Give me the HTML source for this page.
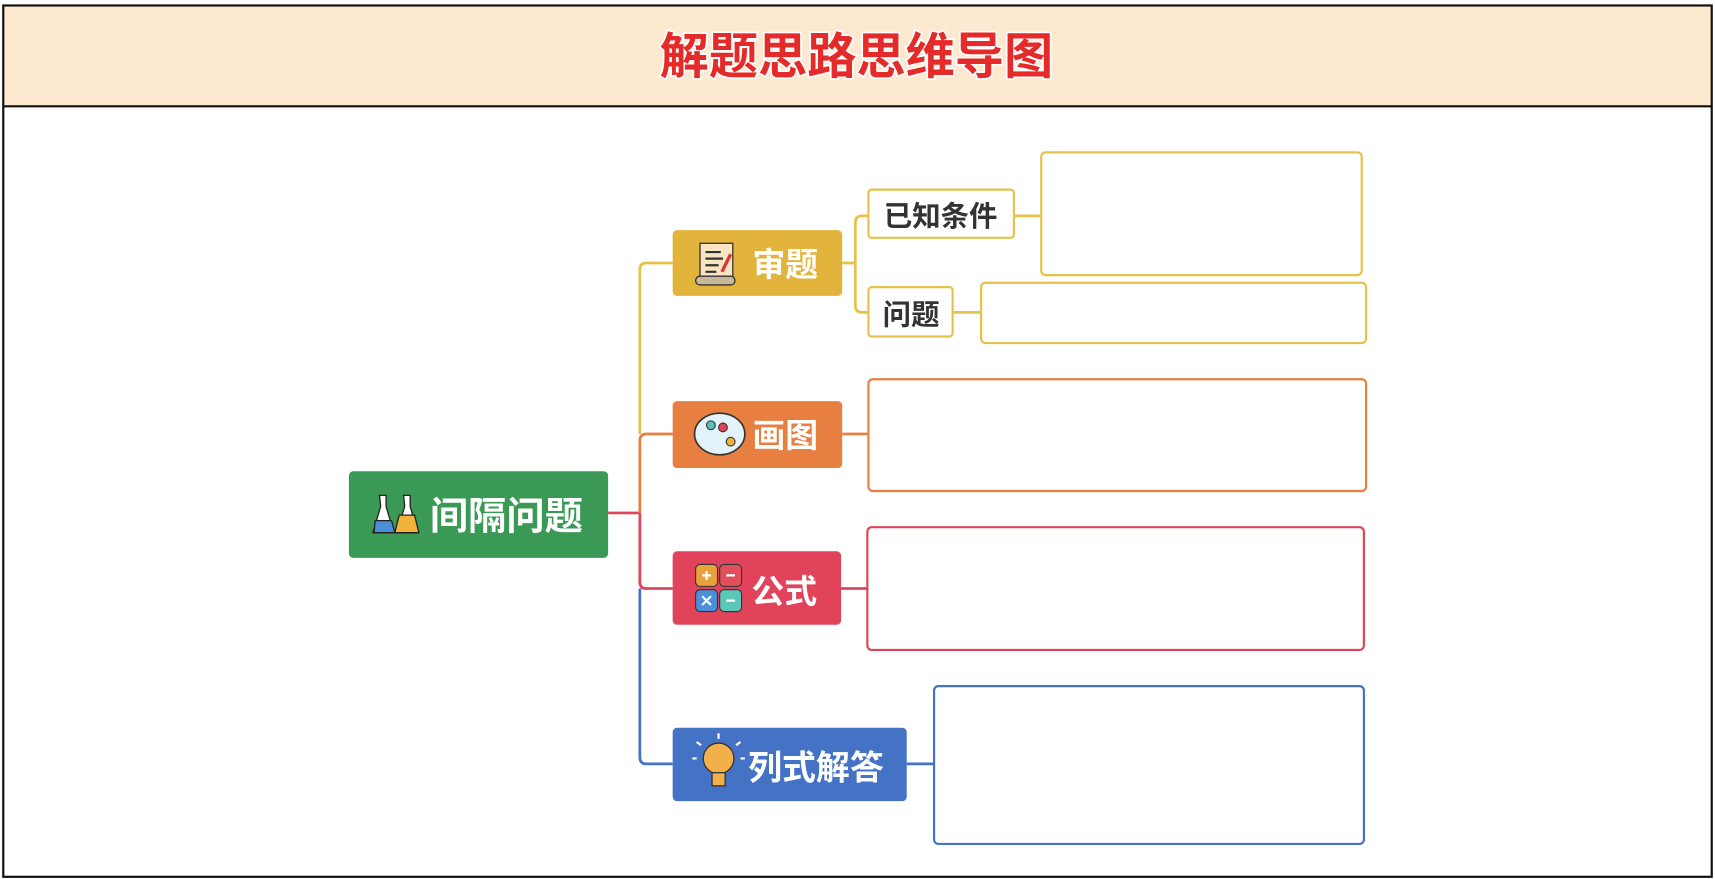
<!DOCTYPE html>
<html><head><meta charset="utf-8"><style>
html,body{margin:0;padding:0;background:#fff;}
svg{display:block;}
text{font-family:"Liberation Sans","Noto Sans CJK SC",sans-serif;font-weight:bold;}
</style></head><body>
<svg width="1715" height="879" viewBox="0 0 1568 802" preserveAspectRatio="none" xmlns="http://www.w3.org/2000/svg">
<rect x="0" y="0" width="1568" height="802" fill="#fff"/>
<rect x="3" y="5" width="1562" height="92" fill="#fde9d0"/>
<rect x="3" y="5" width="1562" height="795" fill="none" stroke="#111" stroke-width="2"/>
<line x1="3" y1="97" x2="1565" y2="97" stroke="#111" stroke-width="2"/>
<text x="783" y="67" text-anchor="middle" font-size="45" fill="#e52a2a" stroke="#fff" stroke-width="3" paint-order="stroke" font-weight="900">解题思路思维导图</text>

<g fill="none" stroke-width="2.5">
<path d="M556 468 H585" stroke="#e0435a"/>
<path d="M615 240 H591 Q585 240 585 246 V396" stroke="#e6c24a"/>
<path d="M615 396 H591 Q585 396 585 402 V468" stroke="#e77f40"/>
<path d="M585 468 V531 Q585 537 591 537 H615" stroke="#e0435a"/>
<path d="M585 537 V691 Q585 697 591 697 H615" stroke="#4472c4"/>
<path d="M770 240 H782 M794 197 H788 Q782 197 782 203 V279 Q782 285 788 285 H794" stroke="#e6c24a"/>
<path d="M927 197 H952 M871 285 H897" stroke="#e6c24a"/>
<path d="M770 396 H794" stroke="#e77f40"/>
<path d="M769 537 H793" stroke="#e0435a"/>
<path d="M829 697 H854" stroke="#4472c4"/>
</g>
<g fill="#fff" stroke-width="2">
<rect x="952" y="139" width="293" height="112" rx="4" stroke="#e6c24a"/>
<rect x="897" y="258" width="352" height="55" rx="4" stroke="#e6c24a"/>
<rect x="794" y="346" width="455" height="102" rx="4" stroke="#e77f40"/>
<rect x="793" y="481" width="454" height="112" rx="4" stroke="#e0435a"/>
<rect x="854" y="626" width="393" height="144" rx="4" stroke="#4472c4"/>
<rect x="794" y="173" width="133" height="44" rx="3" stroke="#e6c24a"/>
<rect x="794" y="262" width="77" height="45" rx="3" stroke="#e6c24a"/>
</g>
<text x="860" y="206" text-anchor="middle" font-size="26" fill="#333">已知条件</text>
<text x="833" y="296" text-anchor="middle" font-size="26" fill="#333">问题</text>

<rect x="319" y="430" width="237" height="79" rx="4" fill="#3a9a55"/>
<g stroke="#222" stroke-width="1.2">
<path d="M347 452 h6 v10 l7 24 h-19 l7 -24z" fill="#fff"/>
<path d="M343 475 h15 l3 11 h-19z" fill="#4a8fd8"/>
<path d="M369 452 h6 v10 l7 24 h-19 l7 -24z" fill="#fff"/>
<path d="M365 470 h14 l4 16 h-22z" fill="#f0b43a"/>
</g>
<text x="463" y="483" text-anchor="middle" font-size="35" fill="#fff">间隔问题</text>

<rect x="615" y="210" width="155" height="60" rx="4" fill="#e2b43c"/>
<g stroke="#333" stroke-width="1.2">
<rect x="640" y="222" width="30" height="34" fill="#f8e4c0"/>
<rect x="636" y="252" width="36" height="8" rx="4" fill="#c8b89a"/>
<path d="M645 230 h14 M645 236 h16 M645 242 h12 M645 248 h10" stroke="#333" stroke-width="2"/>
<path d="M668 232 l-8 16" stroke="#d33" stroke-width="3"/>
</g>
<text x="718" y="252" text-anchor="middle" font-size="30" fill="#fff">审题</text>

<rect x="615" y="366" width="155" height="61" rx="4" fill="#e77f40"/>
<ellipse cx="658" cy="396" rx="23" ry="19" fill="#e3f3fa" stroke="#333" stroke-width="1.5"/>
<circle cx="650" cy="388" r="4" fill="#5bc0b8" stroke="#333"/>
<circle cx="661" cy="390" r="4" fill="#e0435a" stroke="#333"/>
<circle cx="668" cy="403" r="4" fill="#f0b43a" stroke="#333"/>
<text x="718" y="408" text-anchor="middle" font-size="30" fill="#fff">画图</text>

<rect x="615" y="503" width="154" height="67" rx="4" fill="#e0435a"/>
<g stroke="#333" stroke-width="1">
<rect x="636" y="515" width="20" height="20" rx="4" fill="#e8a23a"/>
<rect x="658" y="515" width="20" height="20" rx="4" fill="#e0505a"/>
<rect x="636" y="538" width="20" height="20" rx="4" fill="#4a8fd8"/>
<rect x="658" y="538" width="20" height="20" rx="4" fill="#5bc7b8"/>
</g>
<g stroke="#fff" stroke-width="2">
<path d="M642 525 h8 M646 521 v8 M664 525 h8 M642 544 l8 8 M650 544 l-8 8 M664 548 h8"/>
</g>
<text x="717" y="550" text-anchor="middle" font-size="30" fill="#fff">公式</text>

<rect x="615" y="664" width="214" height="67" rx="4" fill="#4472c4"/>
<circle cx="657" cy="692" r="14" fill="#f2b04a" stroke="#333" stroke-width="1.2"/>
<rect x="651" y="705" width="12" height="12" fill="#f2b04a" stroke="#333" stroke-width="1.2"/>
<path d="M657 674 v-5 M641 680 l-4 -3 M673 680 l4 -3 M637 692 h-4 M677 692 h4" stroke="#fff" stroke-width="2"/>
<text x="746" y="711" text-anchor="middle" font-size="31" fill="#fff">列式解答</text>
</svg>
</body></html>
